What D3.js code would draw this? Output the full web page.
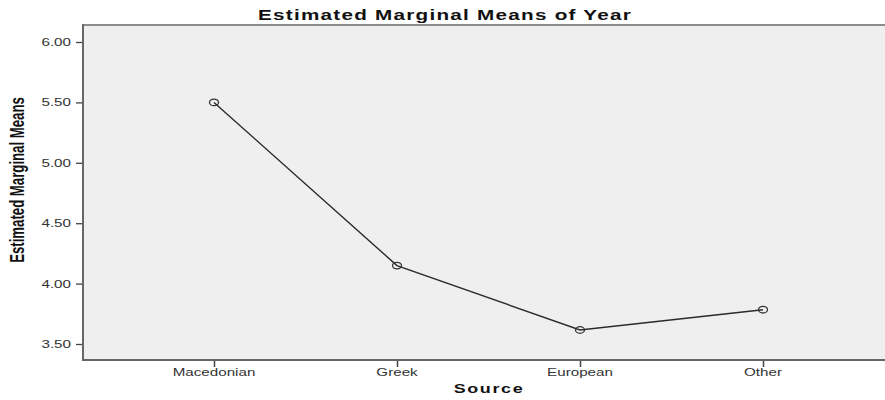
<!DOCTYPE html>
<html><head><meta charset="utf-8">
<script src="https://cdn.jsdelivr.net/npm/d3@7"></script>
<style>body{margin:0;background:#fff;} svg{display:block;}</style>
</head><body>
<svg id="c" width="885" height="400"></svg>
<script>
const categories = ["Macedonian", "Greek", "European", "Other"];
const means = [5.50, 4.149, 3.616, 3.784];
const yTicks = [3.5, 4.0, 4.5, 5.0, 5.5, 6.0];
const title = "Estimated Marginal Means of Year";
const xTitle = "Source";
const yTitle = "Estimated Marginal Means";

const svg = d3.select("#c");
const L = 83, T = 25, R = 893, B = 360;
const SX = 1.38;
const x = d3.scalePoint().domain(categories).range([214, 763]);
const y = d3.scaleLinear().domain([3.5, 6.0]).range([344, 42]);

svg.append("rect").attr("x", L).attr("y", T).attr("width", R - L).attr("height", B - T).attr("fill", "#efefef");
svg.append("line").attr("x1", L).attr("x2", R).attr("y1", T).attr("y2", T).attr("stroke", "#8c8c8c").attr("stroke-width", 2);
svg.append("line").attr("x1", L).attr("x2", L).attr("y1", T - 1).attr("y2", B).attr("stroke", "#666").attr("stroke-width", 2);
svg.append("line").attr("x1", L - 1).attr("x2", R).attr("y1", B).attr("y2", B).attr("stroke", "#666").attr("stroke-width", 2);

function stext(g, tx, ty, s, anchor, sx) {
  return g.append("text").attr("transform", `translate(${tx},${ty}) scale(${sx || SX},1)`)
    .attr("text-anchor", anchor).text(s);
}

// y axis
const yAxis = d3.axisLeft(y).tickValues(yTicks).tickSize(6).tickFormat(() => "");
const gy = svg.append("g").attr("transform", `translate(${L - 1},0)`).call(yAxis);
gy.select(".domain").remove();
gy.selectAll(".tick line").attr("stroke", "#444").attr("stroke-width", 1.3);
const tf = d3.format(".2f");
yTicks.forEach(v => {
  stext(svg, 71, y(v) + 4, tf(v), "end").attr("font-family", "Liberation Sans, Arial, sans-serif")
    .attr("font-size", 11).attr("fill", "#333");
});

// x axis
const xAxis = d3.axisBottom(x).tickSize(6).tickFormat(() => "");
const gx = svg.append("g").attr("transform", `translate(0,${B + 1})`).call(xAxis);
gx.select(".domain").remove();
gx.selectAll(".tick line").attr("stroke", "#444").attr("stroke-width", 1.5);
categories.forEach(c => {
  stext(svg, x(c), 376, c, "middle").attr("font-family", "Liberation Sans, Arial, sans-serif")
    .attr("font-size", 11).attr("fill", "#333");
});

// line
const pts = categories.map((c, i) => [x(c), y(means[i])]);
svg.append("path").attr("d", d3.line()(pts)).attr("fill", "none").attr("stroke", "#2a2a2a").attr("stroke-width", 1.4);
svg.selectAll("ellipse.m").data(pts).enter().append("ellipse")
  .attr("cx", d => d[0]).attr("cy", d => d[1]).attr("rx", 4.5).attr("ry", 3.3)
  .attr("fill", "none").attr("stroke", "#333").attr("stroke-width", 1.3);

// titles
stext(svg, 445, 20, title, "middle").attr("font-family", "Liberation Sans, Arial, sans-serif")
  .attr("font-size", 15).attr("letter-spacing", 0.9).attr("font-weight", "bold").attr("fill", "#111");
stext(svg, 489, 393, xTitle, "middle").attr("font-family", "Liberation Sans, Arial, sans-serif")
  .attr("font-size", 13).attr("letter-spacing", 1.2).attr("font-weight", "bold").attr("fill", "#111");
svg.append("text").attr("transform", "translate(24,180) rotate(-90) scale(0.66,1)")
  .attr("text-anchor", "middle").attr("font-family", "Liberation Sans, Arial, sans-serif")
  .attr("font-size", 20).attr("font-weight", "bold").attr("fill", "#111")
  .text(yTitle);
</script>
</body></html>
